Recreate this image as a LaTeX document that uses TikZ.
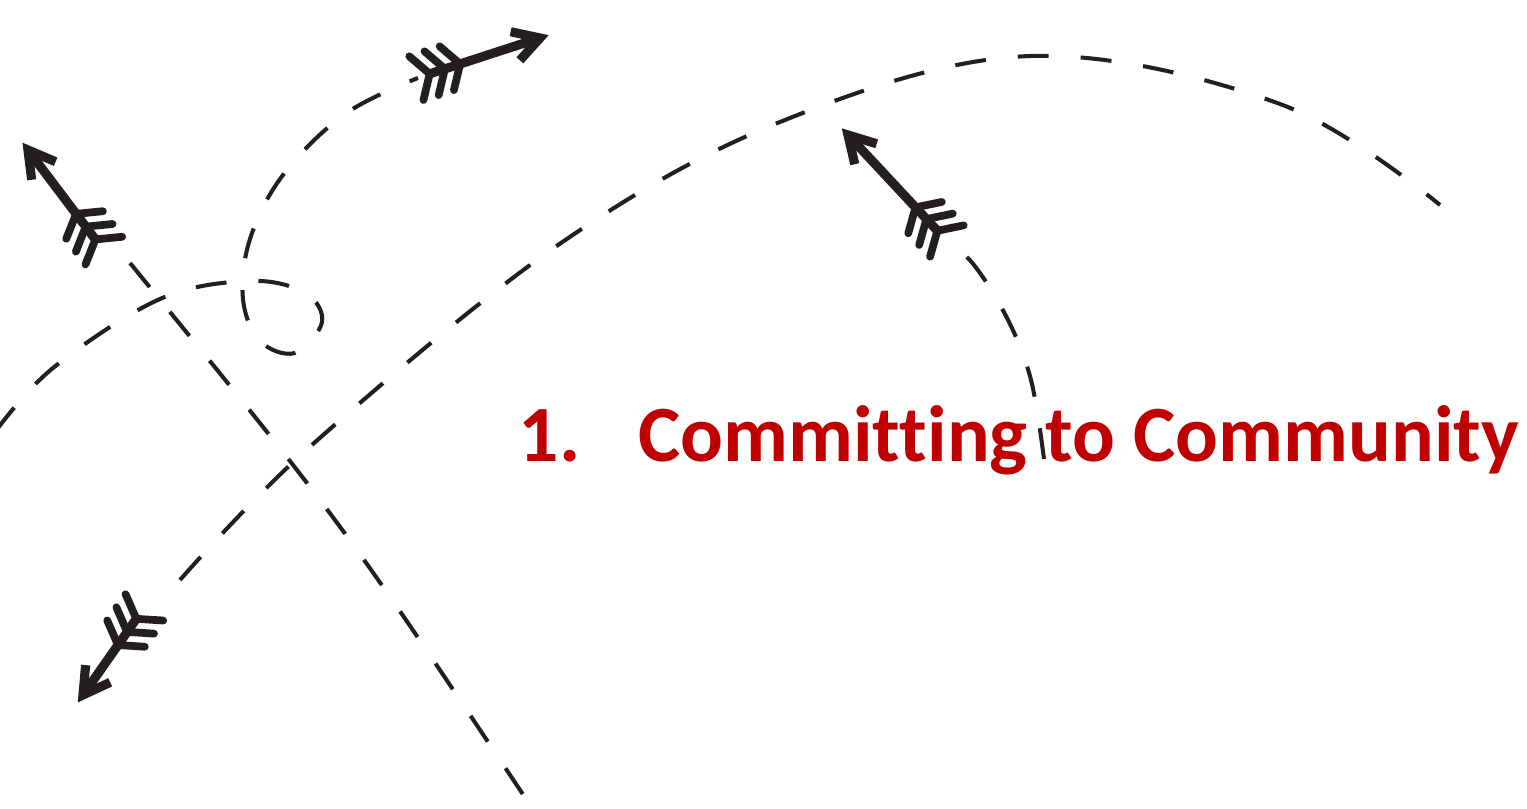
\documentclass[tikz,border=0pt]{standalone}
\usepackage{fontspec}
\setmainfont{Carlito}[Ligatures=NoCommon]
\definecolor{ink}{HTML}{231F20}
\definecolor{titlered}{HTML}{C00000}
\tikzset{
  trail/.style={draw=ink, line width=1.15pt, dash pattern=on 0.31cm off 0.32cm},
  heading/.style={text=titlered, inner sep=0pt, font=\fontsize{22.7}{28}\selectfont\bfseries},
  pics/feather/.style={code={
    \draw[ink, line width=2.6pt, line cap=round] (-#1,0) -- (-0.05,0);
    \draw[ink, line width=2.6pt, line join=miter] (-0.26,0.15) -- (0,0) -- (-0.26,-0.15);
    \foreach \f in {0,0.16,0.32} {
      \draw[ink, line width=2.2pt, line cap=round] (-#1+\f-0.14,0.23) -- (-#1+\f,0) -- (-#1+\f-0.14,-0.23);
    }
  }}
}
\begin{document}
\begin{tikzpicture}
    \useasboundingbox (0,0) rectangle (15.27,8.09);

    % arrow tips
    \coordinate (nwtip) at (0.28,6.59);
    \coordinate (netip) at (5.40,7.71);
    \coordinate (midtip) at (8.48,6.74);
    \coordinate (swtip) at (0.83,1.14);

    % ends of the dashed trails
    \coordinate (diagstart) at (1.30,5.46);
    \coordinate (diagend) at (5.30,0.04);
    \coordinate (arcstart) at (1.80,2.29);
    \coordinate (arcend) at (14.40,6.04);
    \coordinate (loopstart) at (-0.05,3.77);
    \coordinate (loopend) at (4.18,7.31);
    \coordinate (risestart) at (10.44,3.50);
    \coordinate (riseend) at (9.45,5.69);

    % the dashed trails
    \draw[trail] (diagstart) .. controls (3.43,2.85) .. (diagend);
    \draw[trail] plot[smooth, tension=0.6] coordinates {(arcstart) (3.13,3.65) (5.61,5.66) (7.85,6.89) (10.31,7.53) (12.80,7.05) (arcend)};
    \draw[trail] plot[smooth, tension=0.6] coordinates {(loopstart) (0.53,4.41) (1.60,5.10) (2.50,5.28) (3.05,5.16) (3.22,4.87) (2.95,4.56) (2.60,4.68) (2.43,5.10) (2.50,5.70) (2.83,6.34) (3.45,6.95) (loopend)};
    \draw[trail] plot[smooth, tension=0.6] coordinates {(risestart) (10.31,4.29) (10.08,4.89) (9.74,5.44) (riseend)};

    % the arrows
    \pic[rotate=127] at (nwtip) {feather=1.12};
    \pic[rotate=18] at (netip) {feather=1.16};
    \pic[rotate=133] at (midtip) {feather=1.31};
    \pic[rotate=235] at (swtip) {feather=0.93};

    % title
    \node[heading, anchor=base west] (title) at (5.18,3.47) {1.\hspace{0.58cm}Committing to Community};
\end{tikzpicture}
\end{document}
